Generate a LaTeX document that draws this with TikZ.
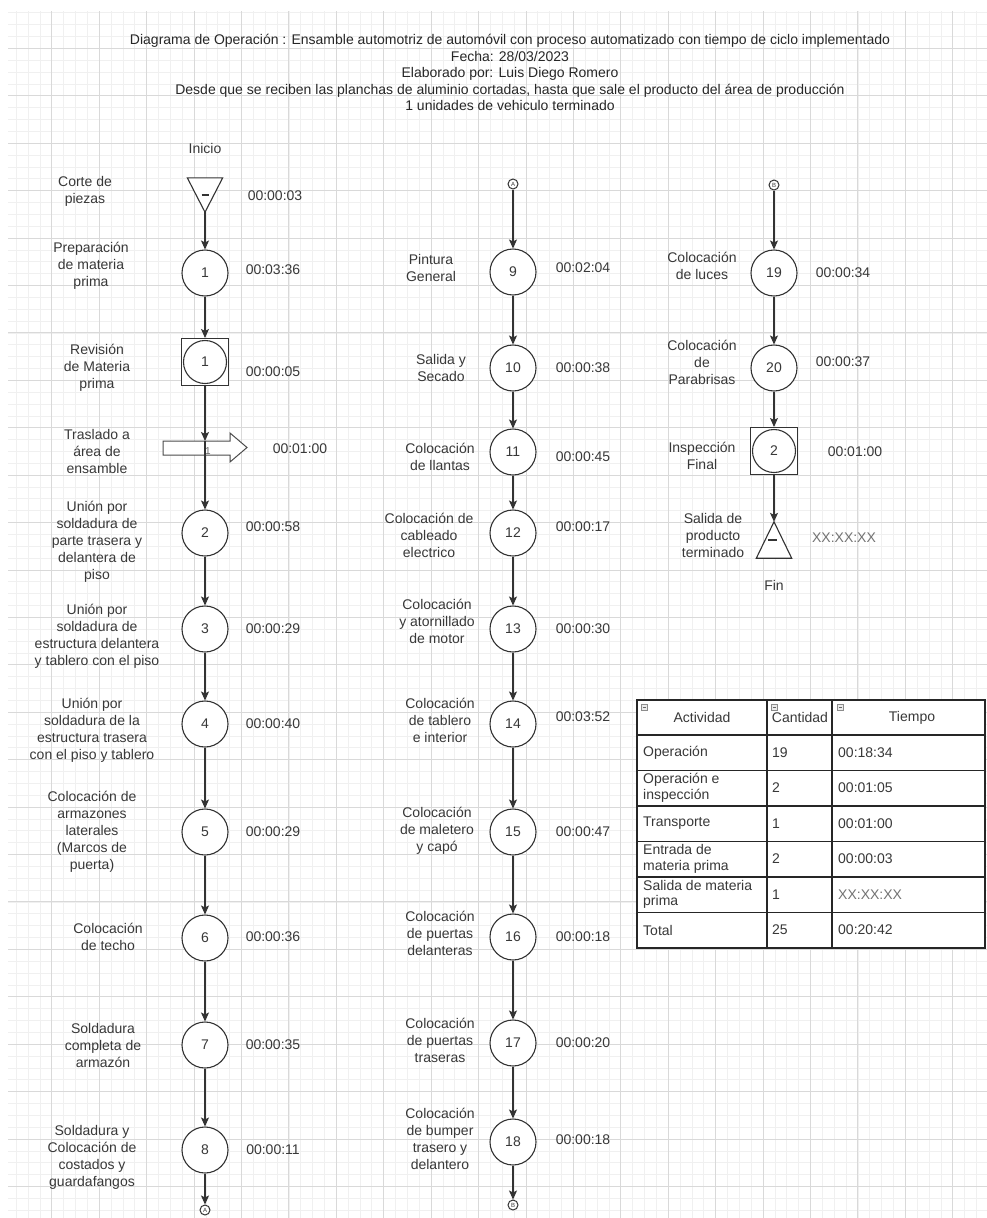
\documentclass[tikz,border=0pt]{standalone}
\usepackage{fontspec}
\setmainfont{Liberation Sans}
\usetikzlibrary{arrows.meta,calc}
\newcommand\lblfont{\fontsize{14}{17}\selectfont}
\newcommand\tblfont{\fontsize{14}{15.5}\selectfont}
\begin{document}
\begin{tikzpicture}[x=1pt,y=-1pt,
  every node/.style={font=\lblfont, text=black!78},
  op/.style={circle, draw=black!80, fill=white, line width=1.1pt, minimum size=46pt, inner sep=0pt},
  insq/.style={rectangle, draw=black!80, fill=white, line width=1.1pt, minimum size=47pt, inner sep=0pt},
  lbl/.style={align=center, inner sep=0pt},
  tm/.style={inner sep=0pt},
  conn/.style={circle, draw=black!80, fill=white, line width=1pt, minimum size=10pt, inner sep=0pt, font=\fontsize{6}{6}\selectfont},
  flow/.style={draw=black!80, line width=1.1pt, -{Stealth[length=9pt,width=8pt,inset=2pt]}},
  shapeline/.style={draw=black!80, line width=1.1pt},
  gridminor/.style={draw=black!6, line width=0.6pt},
  gridmajor/.style={draw=black!15, line width=0.8pt},
  cellt/.style={anchor=west, inner sep=0pt, font=\tblfont, align=left},
  headt/.style={inner sep=0pt, font=\tblfont},
]
\useasboundingbox (0,0) rectangle (987,1218);
\fill[white] (0,0) rectangle (987,1218);
% ---------- grid ----------
\begin{scope}
\clip (8,11.7) rectangle (987,1218);
\foreach \i in {-4,...,80} { \draw[gridminor] ({51.7+\i*11.855},0) -- ({51.7+\i*11.855},1218); }
\foreach \i in {-4,...,101} { \draw[gridminor] (0,{48.3+\i*11.855}) -- (987,{48.3+\i*11.855}); }
\foreach \i in {-1,...,20} { \draw[gridmajor] ({51.7+\i*47.42},0) -- ({51.7+\i*47.42},1218); }
\foreach \i in {-1,...,25} { \draw[gridmajor] (0,{48.3+\i*47.42}) -- (987,{48.3+\i*47.42}); }
\end{scope}
% ---------- title ----------
\node[lbl, text=black!85, font=\fontsize{14}{16.5}\selectfont, anchor=north] (title) at (510,34) {Diagrama de Operación : Ensamble automotriz de automóvil con proceso automatizado con tiempo de ciclo implementado\\Fecha: 28/03/2023\\Elaborado por: Luis Diego Romero\\Desde que se reciben las planchas de aluminio cortadas, hasta que sale el producto del área de producción\\1 unidades de vehiculo terminado};
% ---------- left column ----------
\node (ini) at (205,148) {Inicio};
\node[minimum width=35pt, minimum height=34pt, inner sep=0pt] (e1) at (205,195) {};
\draw[shapeline, fill=white] (e1.north west) -- (e1.north east) -- (e1.south) -- cycle;
\draw[shapeline] (201.5,195) -- (208.5,195);
\node[op] (o1) at (205,273) {1};
\node[insq] (i1) at (205,362) {};
\node[op, minimum size=43pt] (i1c) at (205,362) {1};
% transport
\draw[draw=black!70, line width=1pt, fill=white] (163,441) -- (230,441) -- (230,433) -- (247,447.5) -- (230,462) -- (230,455) -- (163,455) -- cycle;
\node[inner sep=0pt, font=\fontsize{10}{10}\selectfont, text=black!60] (trl) at (208,451) {1};
\coordinate (trin) at (205,441);
\node[op] (o2) at (205,533) {2};
\node[op] (o3) at (205,629) {3};
\node[op] (o4) at (205,724) {4};
\node[op] (o5) at (205,832) {5};
\node[op] (o6) at (205,938) {6};
\node[op] (o7) at (205,1045) {7};
\node[op] (o8) at (205,1150) {8};
\node[conn] (ca1) at (205,1210) {A};
% labels left
\node[lbl] (l0) at (85,191) {Corte de\\piezas};
\node[lbl] (l1) at (91,266) {Preparación\\de materia\\prima};
\node[lbl] (l2) at (97,368) {Revisión\\de Materia\\prima};
\node[lbl] (l3) at (97,451) {Traslado a\\área de\\ensamble};
\node[lbl] (l4) at (97,542) {Unión por\\soldadura de\\parte trasera y\\delantera de\\piso};
\node[lbl] (l5) at (97,636) {Unión por\\soldadura de\\estructura delantera\\y tablero con el piso};
\node[lbl] (l6) at (92,730) {Unión por\\soldadura de la\\estructura trasera\\con el piso y tablero};
\node[lbl] (l7) at (92,832) {Colocación de\\armazones\\laterales\\(Marcos de\\puerta)};
\node[lbl] (l8) at (108,937) {Colocación\\de techo};
\node[lbl] (l9) at (103,1045) {Soldadura\\completa de\\armazón};
\node[lbl] (l10) at (92,1157) {Soldadura y\\Colocación de\\costados y\\guardafangos};
% times left
\node[tm] (t0) at (275,196) {00:00:03};
\node[tm] (t1) at (273,270) {00:03:36};
\node[tm] (t2) at (273,372) {00:00:05};
\node[tm] (t3) at (300,449) {00:01:00};
\node[tm] (t4) at (273,527) {00:00:58};
\node[tm] (t5) at (273,629) {00:00:29};
\node[tm] (t6) at (273,724) {00:00:40};
\node[tm] (t7) at (273,832) {00:00:29};
\node[tm] (t8) at (273,937) {00:00:36};
\node[tm] (t9) at (273,1045) {00:00:35};
\node[tm] (t10) at (273,1150) {00:00:11};
% arrows left
\draw[flow] (e1.south) -- (o1.north);
\draw[flow] (o1.south) -- (i1.north);
\draw[flow] (i1.south) -- (trin);
\draw[flow] (trin) -- (o2.north);
\draw[flow] (o2.south) -- (o3.north);
\draw[flow] (o3.south) -- (o4.north);
\draw[flow] (o4.south) -- (o5.north);
\draw[flow] (o5.south) -- (o6.north);
\draw[flow] (o6.south) -- (o7.north);
\draw[flow] (o7.south) -- (o8.north);
\draw[flow] (o8.south) -- (ca1.north);
% ---------- middle column ----------
\node[conn] (ca2) at (513,184) {A};
\node[op] (o9) at (513,272) {9};
\node[op] (o10) at (513,368) {10};
\node[op] (o11) at (513,452) {11};
\node[op] (o12) at (513,533) {12};
\node[op] (o13) at (513,629) {13};
\node[op] (o14) at (513,724) {14};
\node[op] (o15) at (513,832) {15};
\node[op] (o16) at (513,937) {16};
\node[op] (o17) at (513,1043) {17};
\node[op] (o18) at (513,1142) {18};
\node[conn] (cb1) at (513,1205) {B};
\node[lbl] (m9) at (431,268) {Pintura\\General};
\node[lbl] (m10) at (441,368) {Salida y\\Secado};
\node[lbl] (m11) at (440,457) {Colocación\\de llantas};
\node[lbl] (m12) at (429,535) {Colocación de\\cableado\\electrico};
\node[lbl] (m13) at (437,621) {Colocación\\y atornillado\\de motor};
\node[lbl] (m14) at (440,720) {Colocación\\de tablero\\e interior};
\node[lbl] (m15) at (437,831) {Colocación\\de maletero\\y capó};
\node[lbl] (m16) at (440,933) {Colocación\\de puertas\\delanteras};
\node[lbl] (m17) at (440,1040) {Colocación\\de puertas\\traseras};
\node[lbl] (m18) at (440,1139) {Colocación\\de bumper\\trasero y\\delantero};
\node[tm] (u9) at (583,268) {00:02:04};
\node[tm] (u10) at (583,368) {00:00:38};
\node[tm] (u11) at (583,457) {00:00:45};
\node[tm] (u12) at (583,527) {00:00:17};
\node[tm] (u13) at (583,629) {00:00:30};
\node[tm] (u14) at (583,717) {00:03:52};
\node[tm] (u15) at (583,832) {00:00:47};
\node[tm] (u16) at (583,937) {00:00:18};
\node[tm] (u17) at (583,1043) {00:00:20};
\node[tm] (u18) at (583,1140) {00:00:18};
\draw[flow] (ca2.south) -- (o9.north);
\draw[flow] (o9.south) -- (o10.north);
\draw[flow] (o10.south) -- (o11.north);
\draw[flow] (o11.south) -- (o12.north);
\draw[flow] (o12.south) -- (o13.north);
\draw[flow] (o13.south) -- (o14.north);
\draw[flow] (o14.south) -- (o15.north);
\draw[flow] (o15.south) -- (o16.north);
\draw[flow] (o16.south) -- (o17.north);
\draw[flow] (o17.south) -- (o18.north);
\draw[flow] (o18.south) -- (cb1.north);
% ---------- right column ----------
\node[conn] (cb2) at (774,185) {B};
\node[op] (o19) at (774,273) {19};
\node[op] (o20) at (774,368) {20};
\node[insq] (i2) at (774,451) {};
\node[op, minimum size=43pt] (i2c) at (774,451) {2};
\node[minimum width=35pt, minimum height=36pt, inner sep=0pt] (e2) at (774,540) {};
\draw[shapeline, fill=white] (e2.south west) -- (e2.south east) -- (e2.north) -- cycle;
\draw[shapeline] (768,540) -- (777,540);
\node (fin) at (774,585) {Fin};
\node[lbl] (r19) at (702,266) {Colocación\\de luces};
\node[lbl] (r20) at (702,362) {Colocación\\de\\Parabrisas};
\node[lbl] (r21) at (702,456) {Inspección\\Final};
\node[lbl] (r22) at (713,535) {Salida de\\producto\\terminado};
\node[tm] (v19) at (843,273) {00:00:34};
\node[tm] (v20) at (843,362) {00:00:37};
\node[tm] (v21) at (855,452) {00:01:00};
\node[tm, text=black!55] (v22) at (844,538) {XX:XX:XX};
\draw[flow] (cb2.south) -- (o19.north);
\draw[flow] (o19.south) -- (o20.north);
\draw[flow] (o20.south) -- (i2.north);
\draw[flow] (i2.south) -- (e2.north);
% ---------- table ----------
\fill[white] (637,700) rectangle (985,948);
\node[headt] (h1) at (702,717.5) {Actividad};
\node[headt] (h2) at (800,717.5) {Cantidad};
\node[headt] (h3) at (912,717.5) {Tiempo};
\node[cellt] (a1) at (643,752.5) {Operación};
\node[cellt] (a2) at (643,788) {Operación e\\inspección};
\node[cellt] (a3) at (643,823.5) {Transporte};
\node[cellt] (a4) at (643,859) {Entrada de\\materia prima};
\node[cellt] (a5) at (643,894.5) {Salida de materia\\prima};
\node[cellt] (a6) at (643,930) {Total};
\node[cellt] (b1) at (772,752.5) {19};
\node[cellt] (b2) at (772,788) {2};
\node[cellt] (b3) at (772,823.5) {1};
\node[cellt] (b4) at (772,859) {2};
\node[cellt] (b5) at (772,894.5) {1};
\node[cellt] (b6) at (772,930) {25};
\node[cellt] (c1) at (838,752.5) {00:18:34};
\node[cellt] (c2) at (838,788) {00:01:05};
\node[cellt] (c3) at (838,823.5) {00:01:00};
\node[cellt] (c4) at (838,859) {00:00:03};
\node[cellt, text=black!55] (c5) at (838,894.5) {XX:XX:XX};
\node[cellt] (c6) at (838,930) {00:20:42};
\draw[draw=black!85, line width=1.3pt] (637,700) rectangle (985,948);
\foreach \y in {735,770.5,806,841.5,877,912.5} { \draw[draw=black!85, line width=1.3pt] (637,\y) -- (985,\y); }
\foreach \x in {767,832} { \draw[draw=black!85, line width=1.3pt] (\x,700) -- (\x,948); }
\foreach \x in {641,771,837} {
  \draw[draw=black!45, line width=0.6pt, fill=black!8] (\x,704) rectangle ++(6,6);
  \draw[draw=black!60, line width=0.6pt] (\x+1.5,707) -- (\x+4.5,707);
}
\end{tikzpicture}
\end{document}
